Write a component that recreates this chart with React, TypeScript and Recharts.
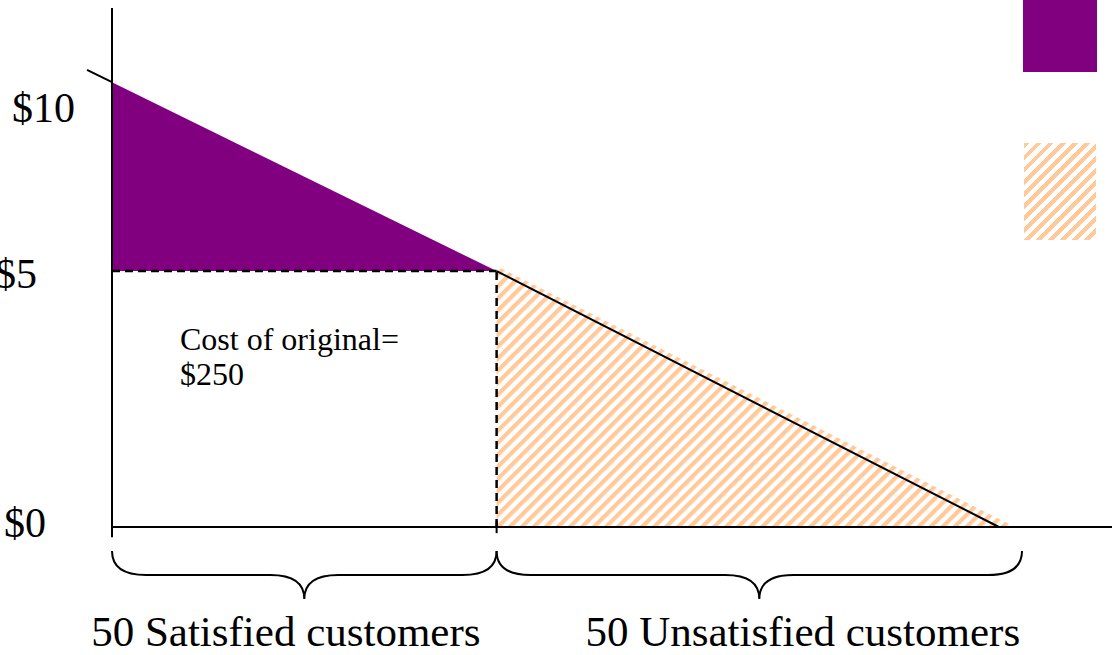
import React from 'react';
import { ComposedChart, Area, XAxis, YAxis, ReferenceLine } from 'recharts';

// customers on x, price on y
const wedgeX = [0, 50];
const wedgeLow = [5, 5];
const wedgeHigh = [8.69, 5];

const lossX = [50, 117.4];
const lossLow = [0, 0];
const lossHigh = [5.1, 0];

const demandX = [-3.25, 115.3];
const demandPrice = [8.93, 0];

const originalPrice = 5;
const splitAt = 50;
const groupBounds = [
  [0, 50],
  [50, 118.3],
];

const priceTicks = [0, 5, 8.2];
const priceLabels = ['$0', '$5', '$10'];
const groupTicks = [22.6, 89.8];
const groupLabels = ['50 Satisfied customers', '50 Unsatisfied customers'];
const noteLines = ['Cost of original=', '$250'];

const FONT = '"Liberation Serif", "Times New Roman", serif';
const PURPLE = '#800080';
const PEACH = '#FFC999';

const wedgeData = wedgeX.map((x, i) => ({ x, range: [wedgeLow[i], wedgeHigh[i]] }));
const lossData = lossX.map((x, i) => ({ x, range: [lossLow[i], lossHigh[i]] }));

// the purple wedge hides the demand line, so only the parts outside it are drawn
const demandPieces = [
  [{ x: demandX[0], y: demandPrice[0] }, { x: wedgeX[0], y: wedgeHigh[0] }],
  [{ x: wedgeX[1], y: wedgeHigh[1] }, { x: demandX[1], y: demandPrice[1] }],
];

// label nudges (px) so the y labels sit where the slide had them
const yLabelShift: Record<string, { dx: number; dy: number }> = {
  '$10': { dx: -29, dy: 0 },
  '$5': { dx: -67, dy: 2 },
  '$0': { dx: -58, dy: -5 },
};

const PriceTick = (props: any) => {
  const { x, y, payload } = props;
  const label = priceLabels[priceTicks.indexOf(payload.value)];
  const s = yLabelShift[label] || { dx: 0, dy: 0 };
  return (
    <text x={x + s.dx} y={y + s.dy} dy="0.35em" textAnchor="end" fontFamily={FONT} fontSize={42} fill="#000">
      {label}
    </text>
  );
};

const GroupTick = (props: any) => {
  const { x, y, payload } = props;
  const label = groupLabels[groupTicks.indexOf(payload.value)];
  return (
    <text x={x} y={y + 111} textAnchor="middle" fontFamily={FONT} fontSize={43} fill="#000">
      {label}
    </text>
  );
};

const Brace = (props: any) => {
  const { x1, y1, x2 } = props;
  const mid = (x1 + x2) / 2;
  const ym = y1 + 24;
  const tip = y1 + 48;
  const r = 34;
  const d = `M${x1},${y1} Q${x1},${ym} ${x1 + r},${ym} L${mid - r},${ym} Q${mid},${ym} ${mid},${tip} Q${mid},${ym} ${mid + r},${ym} L${x2 - r},${ym} Q${x2},${ym} ${x2},${y1}`;
  return <path d={d} fill="none" stroke="#000" strokeWidth={2} />;
};

export default function App() {
  return (
    <div style={{ position: 'absolute', left: 0, top: 0, width: 1112, height: 655, background: '#fff', overflow: 'hidden' }}>
      <ComposedChart width={1112} height={655} margin={{ top: 8, right: 0, bottom: 0, left: 0 }}>
        <defs>
          <pattern id="hatch" width={8.5} height={8.5} patternUnits="userSpaceOnUse" patternTransform="rotate(45)">
            <rect x={0} y={0} width={4.2} height={8.5} fill={PEACH} />
          </pattern>
        </defs>
        <XAxis
          type="number"
          dataKey="x"
          domain={[0, 130]}
          ticks={groupTicks}
          tick={<GroupTick />}
          tickLine={false}
          axisLine={{ stroke: '#000', strokeWidth: 2 }}
          height={128}
          allowDataOverflow
        />
        <YAxis
          type="number"
          domain={[0, 10.14]}
          ticks={priceTicks}
          tick={<PriceTick />}
          tickLine={false}
          axisLine={{ stroke: '#000', strokeWidth: 2 }}
          width={112}
          allowDataOverflow
        />
        <Area
          data={lossData}
          dataKey="range"
          type="linear"
          stroke="none"
          fill="url(#hatch)"
          fillOpacity={1}
          isAnimationActive={false}
        />
        <Area
          data={wedgeData}
          dataKey="range"
          type="linear"
          stroke="none"
          fill={PURPLE}
          fillOpacity={1}
          isAnimationActive={false}
        />
        <ReferenceLine
          segment={[{ x: 0, y: originalPrice }, { x: splitAt, y: originalPrice }]}
          stroke="#000"
          strokeWidth={2.5}
          strokeDasharray="8 5"
          ifOverflow="visible"
        />
        <ReferenceLine
          segment={[{ x: splitAt, y: 0 }, { x: splitAt, y: originalPrice }]}
          stroke="#000"
          strokeWidth={2.5}
          strokeDasharray="8 5"
          ifOverflow="visible"
        />
        {demandPieces.map((seg, i) => (
          <ReferenceLine key={`d${i}`} segment={seg} stroke="#000" strokeWidth={2} ifOverflow="visible" />
        ))}
        <ReferenceLine segment={[{ x: 0, y: 0 }, { x: 0, y: -0.2 }]} stroke="#000" strokeWidth={2} ifOverflow="visible" />
        <ReferenceLine segment={[{ x: splitAt, y: 0.12 }, { x: splitAt, y: -0.12 }]} stroke="#000" strokeWidth={2} ifOverflow="visible" />
        {groupBounds.map(([a, b], i) => (
          <ReferenceLine
            key={`b${i}`}
            segment={[{ x: a, y: -0.47 }, { x: b, y: -0.47 }]}
            ifOverflow="visible"
            shape={<Brace />}
          />
        ))}
      </ComposedChart>

      <div style={{ position: 'absolute', left: 180, top: 322, fontFamily: FONT, fontSize: 32, lineHeight: '35px', color: '#000' }}>
        {noteLines.map((t) => (
          <div key={t}>{t}</div>
        ))}
      </div>

      <div style={{ position: 'absolute', left: 1023, top: 0, width: 74, height: 72, background: PURPLE }} />
      <div
        style={{
          position: 'absolute',
          left: 1024,
          top: 143,
          width: 72,
          height: 97,
          background: `repeating-linear-gradient(135deg, ${PEACH} 0px, ${PEACH} 4.2px, #fff 4.2px, #fff 8.5px)`,
        }}
      />
    </div>
  );
}
